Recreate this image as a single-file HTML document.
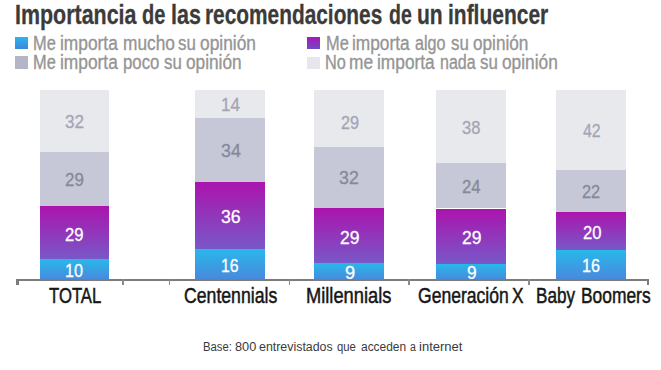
<!DOCTYPE html>
<html><head><meta charset="utf-8"><style>
html,body{margin:0;padding:0;background:#fff;}
body{width:661px;height:370px;position:relative;overflow:hidden;font-family:"Liberation Sans",sans-serif;}
.t{position:absolute;white-space:pre;line-height:1;transform-origin:0 0;font-family:"Liberation Sans",sans-serif;}
.r{position:absolute;}
</style></head><body>
<div class="r" style="left:15.2px;top:37px;width:12.80px;height:12.30px;background:linear-gradient(180deg,#2ab6ec,#3f86dc)"></div>
<div class="r" style="left:15.2px;top:56px;width:12.80px;height:12.80px;background:#b4b6c6"></div>
<div class="r" style="left:307px;top:37px;width:12.80px;height:12.30px;background:linear-gradient(180deg,#a817b4,#6d4cc6)"></div>
<div class="r" style="left:307px;top:56.9px;width:12.80px;height:12.40px;background:#e6e6ec"></div>
<div class="t" style="left:14.64px;top:0.90px;font-size:27.6px;font-weight:700;color:#3b3b3b;transform:scaleX(0.7765);-webkit-text-stroke:0.3px currentColor;">Importancia</div>
<div class="t" style="left:141.68px;top:0.90px;font-size:27.6px;font-weight:700;color:#3b3b3b;transform:scaleX(0.7270);-webkit-text-stroke:0.3px currentColor;">de</div>
<div class="t" style="left:170.64px;top:0.90px;font-size:27.6px;font-weight:700;color:#3b3b3b;transform:scaleX(0.7802);-webkit-text-stroke:0.3px currentColor;">las</div>
<div class="t" style="left:205.18px;top:0.90px;font-size:27.6px;font-weight:700;color:#3b3b3b;transform:scaleX(0.7556);-webkit-text-stroke:0.3px currentColor;">recomendaciones</div>
<div class="t" style="left:388.60px;top:0.90px;font-size:27.6px;font-weight:700;color:#3b3b3b;transform:scaleX(0.7071);-webkit-text-stroke:0.3px currentColor;">de</div>
<div class="t" style="left:417.16px;top:0.90px;font-size:27.6px;font-weight:700;color:#3b3b3b;transform:scaleX(0.7638);-webkit-text-stroke:0.3px currentColor;">un</div>
<div class="t" style="left:447.98px;top:0.90px;font-size:27.6px;font-weight:700;color:#3b3b3b;transform:scaleX(0.7599);-webkit-text-stroke:0.3px currentColor;">influencer</div>
<div class="t" style="left:33.13px;top:34.08px;font-size:19.4px;font-weight:400;color:#959595;transform:scaleX(0.8447);-webkit-text-stroke:0.35px currentColor;">Me</div>
<div class="t" style="left:60.08px;top:34.08px;font-size:19.4px;font-weight:400;color:#959595;transform:scaleX(0.8945);-webkit-text-stroke:0.35px currentColor;">importa</div>
<div class="t" style="left:122.99px;top:34.08px;font-size:19.4px;font-weight:400;color:#959595;transform:scaleX(0.8909);-webkit-text-stroke:0.35px currentColor;">mucho</div>
<div class="t" style="left:178.47px;top:34.08px;font-size:19.4px;font-weight:400;color:#959595;transform:scaleX(0.8693);-webkit-text-stroke:0.35px currentColor;">su</div>
<div class="t" style="left:200.43px;top:34.08px;font-size:19.4px;font-weight:400;color:#959595;transform:scaleX(0.8940);-webkit-text-stroke:0.35px currentColor;">opinión</div>
<div class="t" style="left:33.13px;top:53.08px;font-size:19.4px;font-weight:400;color:#959595;transform:scaleX(0.8447);-webkit-text-stroke:0.35px currentColor;">Me</div>
<div class="t" style="left:60.08px;top:53.08px;font-size:19.4px;font-weight:400;color:#959595;transform:scaleX(0.8945);-webkit-text-stroke:0.35px currentColor;">importa</div>
<div class="t" style="left:123.02px;top:53.08px;font-size:19.4px;font-weight:400;color:#959595;transform:scaleX(0.8650);-webkit-text-stroke:0.35px currentColor;">poco</div>
<div class="t" style="left:163.87px;top:53.08px;font-size:19.4px;font-weight:400;color:#959595;transform:scaleX(0.8693);-webkit-text-stroke:0.35px currentColor;">su</div>
<div class="t" style="left:185.53px;top:53.08px;font-size:19.4px;font-weight:400;color:#959595;transform:scaleX(0.8891);-webkit-text-stroke:0.35px currentColor;">opinión</div>
<div class="t" style="left:325.63px;top:34.08px;font-size:19.4px;font-weight:400;color:#959595;transform:scaleX(0.8447);-webkit-text-stroke:0.35px currentColor;">Me</div>
<div class="t" style="left:352.29px;top:34.08px;font-size:19.4px;font-weight:400;color:#959595;transform:scaleX(0.8913);-webkit-text-stroke:0.35px currentColor;">importa</div>
<div class="t" style="left:415.08px;top:34.08px;font-size:19.4px;font-weight:400;color:#959595;transform:scaleX(0.8313);-webkit-text-stroke:0.35px currentColor;">algo</div>
<div class="t" style="left:451.47px;top:34.08px;font-size:19.4px;font-weight:400;color:#959595;transform:scaleX(0.8693);-webkit-text-stroke:0.35px currentColor;">su</div>
<div class="t" style="left:473.14px;top:34.08px;font-size:19.4px;font-weight:400;color:#959595;transform:scaleX(0.8858);-webkit-text-stroke:0.35px currentColor;">opinión</div>
<div class="t" style="left:325.04px;top:53.08px;font-size:19.4px;font-weight:400;color:#959595;transform:scaleX(0.8400);-webkit-text-stroke:0.35px currentColor;">No</div>
<div class="t" style="left:349.48px;top:53.08px;font-size:19.4px;font-weight:400;color:#959595;transform:scaleX(0.8925);-webkit-text-stroke:0.35px currentColor;">me</div>
<div class="t" style="left:377.08px;top:53.08px;font-size:19.4px;font-weight:400;color:#959595;transform:scaleX(0.8929);-webkit-text-stroke:0.35px currentColor;">importa</div>
<div class="t" style="left:439.77px;top:53.08px;font-size:19.4px;font-weight:400;color:#959595;transform:scaleX(0.8262);-webkit-text-stroke:0.35px currentColor;">nada</div>
<div class="t" style="left:480.37px;top:53.08px;font-size:19.4px;font-weight:400;color:#959595;transform:scaleX(0.8693);-webkit-text-stroke:0.35px currentColor;">su</div>
<div class="t" style="left:502.13px;top:53.08px;font-size:19.4px;font-weight:400;color:#959595;transform:scaleX(0.8924);-webkit-text-stroke:0.35px currentColor;">opinión</div>
<div class="t" style="left:48.72px;top:285.27px;font-size:22.2px;font-weight:400;color:#161616;transform:scaleX(0.7531);-webkit-text-stroke:0.5px currentColor;">TOTAL</div>
<div class="t" style="left:183.60px;top:285.27px;font-size:22.2px;font-weight:400;color:#161616;transform:scaleX(0.7957);-webkit-text-stroke:0.5px currentColor;">Centennials</div>
<div class="t" style="left:305.86px;top:285.27px;font-size:22.2px;font-weight:400;color:#161616;transform:scaleX(0.8247);-webkit-text-stroke:0.5px currentColor;">Millennials</div>
<div class="t" style="left:417.81px;top:285.27px;font-size:22.2px;font-weight:400;color:#161616;transform:scaleX(0.7902);-webkit-text-stroke:0.5px currentColor;">Generación</div>
<div class="t" style="left:512.31px;top:285.27px;font-size:22.2px;font-weight:400;color:#161616;transform:scaleX(0.7782);-webkit-text-stroke:0.5px currentColor;">X</div>
<div class="t" style="left:536.05px;top:285.27px;font-size:22.2px;font-weight:400;color:#161616;transform:scaleX(0.7713);-webkit-text-stroke:0.5px currentColor;">Baby</div>
<div class="t" style="left:580.93px;top:285.27px;font-size:22.2px;font-weight:400;color:#161616;transform:scaleX(0.7838);-webkit-text-stroke:0.5px currentColor;">Boomers</div>
<div class="t" style="left:203.08px;top:340.65px;font-size:12.0px;font-weight:400;color:#3a3a3a;transform:scaleX(0.9426);">Base:</div>
<div class="t" style="left:235.27px;top:340.65px;font-size:12.0px;font-weight:400;color:#3a3a3a;transform:scaleX(1.0614);">800</div>
<div class="t" style="left:259.38px;top:340.65px;font-size:12.0px;font-weight:400;color:#3a3a3a;transform:scaleX(1.0326);">entrevistados</div>
<div class="t" style="left:337.13px;top:340.65px;font-size:12.0px;font-weight:400;color:#3a3a3a;transform:scaleX(0.9421);">que</div>
<div class="t" style="left:360.50px;top:340.65px;font-size:12.0px;font-weight:400;color:#3a3a3a;transform:scaleX(0.9949);">acceden</div>
<div class="t" style="left:409.56px;top:340.65px;font-size:12.0px;font-weight:400;color:#3a3a3a;transform:scaleX(0.8800);">a</div>
<div class="t" style="left:419.19px;top:340.65px;font-size:12.0px;font-weight:400;color:#3a3a3a;transform:scaleX(1.0854);">internet</div>
<div class="r" style="left:39.8px;top:90px;width:69.10px;height:61.70px;background:#e8e9ed"></div>
<div class="r" style="left:39.8px;top:151.7px;width:69.10px;height:54.60px;background:#c6c8d7"></div>
<div class="r" style="left:39.8px;top:206.3px;width:69.10px;height:53.10px;background:linear-gradient(180deg,#ab14ad 0%,#7858c8 100%)"></div>
<div class="r" style="left:39.8px;top:259.4px;width:69.10px;height:21.60px;background:linear-gradient(180deg,#28b8ea 0%,#4a86dc 100%)"></div>
<div class="r" style="left:194.8px;top:90px;width:70.20px;height:27.50px;background:#e8e9ed"></div>
<div class="r" style="left:194.8px;top:117.5px;width:70.20px;height:64.50px;background:#c6c8d7"></div>
<div class="r" style="left:194.8px;top:182px;width:70.20px;height:67.10px;background:linear-gradient(180deg,#ab14ad 0%,#7858c8 100%)"></div>
<div class="r" style="left:194.8px;top:249.1px;width:70.20px;height:31.90px;background:linear-gradient(180deg,#28b8ea 0%,#4a86dc 100%)"></div>
<div class="r" style="left:313.9px;top:90px;width:70.40px;height:56.50px;background:#e8e9ed"></div>
<div class="r" style="left:313.9px;top:146.5px;width:70.40px;height:61.10px;background:#c6c8d7"></div>
<div class="r" style="left:313.9px;top:207.6px;width:70.40px;height:55.30px;background:linear-gradient(180deg,#ab14ad 0%,#7858c8 100%)"></div>
<div class="r" style="left:313.9px;top:262.9px;width:70.40px;height:18.10px;background:linear-gradient(180deg,#28b8ea 0%,#4a86dc 100%)"></div>
<div class="r" style="left:435.9px;top:90px;width:70.00px;height:72.70px;background:#e8e9ed"></div>
<div class="r" style="left:435.9px;top:162.7px;width:70.00px;height:45.80px;background:#c6c8d7"></div>
<div class="r" style="left:435.9px;top:208.5px;width:70.00px;height:55.10px;background:linear-gradient(180deg,#ab14ad 0%,#7858c8 100%)"></div>
<div class="r" style="left:435.9px;top:263.6px;width:70.00px;height:17.40px;background:linear-gradient(180deg,#28b8ea 0%,#4a86dc 100%)"></div>
<div class="r" style="left:556.4px;top:90px;width:69.90px;height:80.00px;background:#e8e9ed"></div>
<div class="r" style="left:556.4px;top:170px;width:69.90px;height:42.40px;background:#c6c8d7"></div>
<div class="r" style="left:556.4px;top:212.4px;width:69.90px;height:37.30px;background:linear-gradient(180deg,#ab14ad 0%,#7858c8 100%)"></div>
<div class="r" style="left:556.4px;top:249.7px;width:69.90px;height:31.30px;background:linear-gradient(180deg,#28b8ea 0%,#4a86dc 100%)"></div>
<div class="t" style="left:65.33px;top:111.75px;font-size:19.2px;font-weight:400;color:#a3a5b5;transform:scaleX(0.8917);-webkit-text-stroke:0.3px currentColor;">32</div>
<div class="t" style="left:64.53px;top:169.85px;font-size:19.2px;font-weight:400;color:#858899;transform:scaleX(0.8815);-webkit-text-stroke:0.3px currentColor;">29</div>
<div class="t" style="left:65.34px;top:224.75px;font-size:19.2px;font-weight:400;color:#ffffff;transform:scaleX(0.8662);-webkit-text-stroke:0.3px currentColor;">29</div>
<div class="t" style="left:64.94px;top:260.95px;font-size:19.2px;font-weight:400;color:#ffffff;transform:scaleX(0.8416);-webkit-text-stroke:0.3px currentColor;">10</div>
<div class="t" style="left:220.98px;top:94.75px;font-size:19.2px;font-weight:400;color:#a3a5b5;transform:scaleX(0.8872);-webkit-text-stroke:0.3px currentColor;">14</div>
<div class="t" style="left:220.60px;top:141.45px;font-size:19.2px;font-weight:400;color:#858899;transform:scaleX(0.9292);-webkit-text-stroke:0.3px currentColor;">34</div>
<div class="t" style="left:220.61px;top:207.15px;font-size:19.2px;font-weight:400;color:#ffffff;transform:scaleX(0.9215);-webkit-text-stroke:0.3px currentColor;">36</div>
<div class="t" style="left:221.36px;top:255.55px;font-size:19.2px;font-weight:400;color:#ffffff;transform:scaleX(0.8261);-webkit-text-stroke:0.3px currentColor;">16</div>
<div class="t" style="left:341.36px;top:112.55px;font-size:19.2px;font-weight:400;color:#a3a5b5;transform:scaleX(0.8459);-webkit-text-stroke:0.3px currentColor;">29</div>
<div class="t" style="left:339.40px;top:167.95px;font-size:19.2px;font-weight:400;color:#858899;transform:scaleX(0.9274);-webkit-text-stroke:0.3px currentColor;">32</div>
<div class="t" style="left:339.50px;top:227.55px;font-size:19.2px;font-weight:400;color:#ffffff;transform:scaleX(0.9121);-webkit-text-stroke:0.3px currentColor;">29</div>
<div class="t" style="left:344.54px;top:263.35px;font-size:19.2px;font-weight:400;color:#ffffff;transform:scaleX(0.9500);-webkit-text-stroke:0.3px currentColor;">9</div>
<div class="t" style="left:461.65px;top:117.55px;font-size:19.2px;font-weight:400;color:#a3a5b5;transform:scaleX(0.8608);-webkit-text-stroke:0.3px currentColor;">38</div>
<div class="t" style="left:461.54px;top:177.15px;font-size:19.2px;font-weight:400;color:#858899;transform:scaleX(0.8700);-webkit-text-stroke:0.3px currentColor;">24</div>
<div class="t" style="left:461.50px;top:227.55px;font-size:19.2px;font-weight:400;color:#ffffff;transform:scaleX(0.9121);-webkit-text-stroke:0.3px currentColor;">29</div>
<div class="t" style="left:467.21px;top:263.35px;font-size:19.2px;font-weight:400;color:#ffffff;transform:scaleX(0.9000);-webkit-text-stroke:0.3px currentColor;">9</div>
<div class="t" style="left:582.79px;top:120.55px;font-size:19.2px;font-weight:400;color:#a3a5b5;transform:scaleX(0.8300);-webkit-text-stroke:0.3px currentColor;">42</div>
<div class="t" style="left:582.36px;top:181.95px;font-size:19.2px;font-weight:400;color:#858899;transform:scaleX(0.8513);-webkit-text-stroke:0.3px currentColor;">22</div>
<div class="t" style="left:582.74px;top:222.75px;font-size:19.2px;font-weight:400;color:#ffffff;transform:scaleX(0.8658);-webkit-text-stroke:0.3px currentColor;">20</div>
<div class="t" style="left:582.34px;top:255.85px;font-size:19.2px;font-weight:400;color:#ffffff;transform:scaleX(0.8418);-webkit-text-stroke:0.3px currentColor;">16</div>
<div class="r" style="left:16px;top:279px;width:633.00px;height:2.00px;background:#7c7c7c"></div>
<div class="r" style="left:16.3px;top:279px;width:2.40px;height:5.60px;background:#7c7c7c"></div>
<div class="r" style="left:646.8px;top:279px;width:2.40px;height:5.60px;background:#7c7c7c"></div>
<div class="r" style="left:122.19999999999999px;top:279px;width:1.80px;height:5.50px;background:#8a8a8a"></div>
<div class="r" style="left:168.7px;top:279px;width:1.80px;height:5.50px;background:#8a8a8a"></div>
<div class="r" style="left:288.6px;top:279px;width:1.80px;height:5.50px;background:#8a8a8a"></div>
<div class="r" style="left:408.40000000000003px;top:279px;width:1.80px;height:5.50px;background:#8a8a8a"></div>
<div class="r" style="left:528.2px;top:279px;width:1.80px;height:5.50px;background:#8a8a8a"></div>
</body></html>
